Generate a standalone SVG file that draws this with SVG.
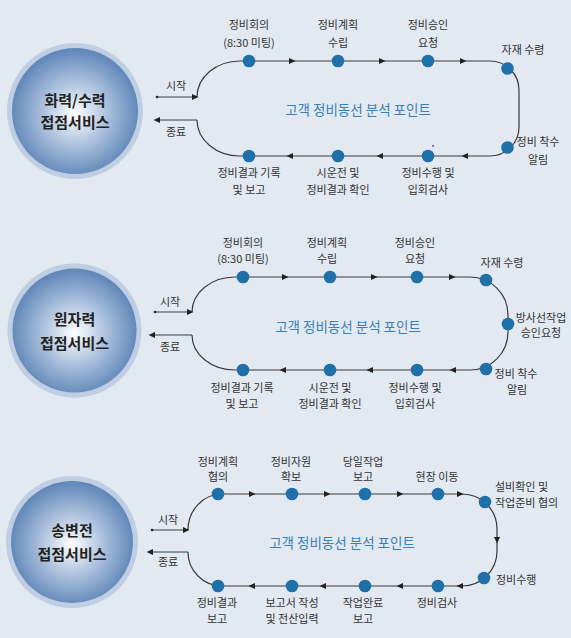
<svg xmlns="http://www.w3.org/2000/svg" xmlns:xlink="http://www.w3.org/1999/xlink" width="571" height="638" viewBox="0 0 571 638">
<style>
text{font-family:"Noto Sans CJK KR","Noto Sans",sans-serif;}
.lbl{font-size:11px;fill:#333;text-anchor:middle;}
.lbl-l{font-size:11px;fill:#333;text-anchor:start;}
.ctr{font-size:13.5px;fill:#3a80b8;text-anchor:middle;}
.svc{font-size:15px;font-weight:bold;fill:#222;text-anchor:middle;}
.line{fill:none;stroke:#3a3a3a;stroke-width:1.2;}
.dot{fill:#1f6fa8;}
.arr{fill:#222;}
.ring{fill:#bfcee2;}
.core{fill:url(#g);}
</style>
<defs>
<radialGradient id="g" cx="0.5" cy="0.52" r="0.5">
<stop offset="0" stop-color="#ffffff"/>
<stop offset="0.5" stop-color="#adc2de"/>
<stop offset="1" stop-color="#6389ba"/>
</radialGradient>
<path id="a" d="M3.5,0 L-3,-3 L-3,3 Z"/>
</defs>
<rect width="571" height="638" fill="#e2e9f1"/>

<!-- Section 1 -->
<g id="svc1">
<circle class="ring" cx="75" cy="111" r="68"/>
<circle class="core" cx="75" cy="111" r="63"/>
<text class="svc" x="75" y="105.5">화력/수력</text>
<text class="svc" x="75" y="127.5">접점서비스</text>
</g>
<g id="conn1">
<path class="line" d="M197,97 A43,36 0 0 1 240,61 L490,61 A29,29 0 0 1 519,90 L519,127 A29,29 0 0 1 490,156 L240,156 A43,36 0 0 1 197,120"/>
<path class="line" d="M157,97 L195,97"/>
<circle class="arr" cx="157" cy="97" r="1.3"/>
<use href="#a" class="arr" transform="translate(195,97)"/>
<path class="line" d="M197,120 L158,120"/>
<use href="#a" class="arr" transform="translate(157,120) rotate(180)"/>
<use href="#a" class="arr" transform="translate(292,61)"/>
<use href="#a" class="arr" transform="translate(382,61)"/>
<use href="#a" class="arr" transform="translate(463,61)"/>
<use href="#a" class="arr" transform="translate(465,156) rotate(180)"/>
<use href="#a" class="arr" transform="translate(380,156) rotate(180)"/>
<use href="#a" class="arr" transform="translate(290,156) rotate(180)"/>
</g>
<text class="lbl" x="176" y="90">시작</text>
<text class="lbl" x="176" y="136">종료</text>
<text class="ctr" x="358" y="115">고객 정비동선 분석 포인트</text>
<g id="n1-1"><circle class="dot" cx="249" cy="61" r="6.3"/><text class="lbl" x="249" y="29">정비회의</text><text class="lbl" x="249" y="47">(8:30 미팅)</text></g>
<g id="n1-2"><circle class="dot" cx="338" cy="61" r="6.3"/><text class="lbl" x="338" y="29">정비계획</text><text class="lbl" x="338" y="47">수립</text></g>
<g id="n1-3"><circle class="dot" cx="428" cy="61" r="6.3"/><text class="lbl" x="428" y="29">정비승인</text><text class="lbl" x="428" y="47">요청</text></g>
<g id="n1-4"><circle class="dot" cx="507.5" cy="68.5" r="6.3"/><text class="lbl" x="523" y="54">자재 수령</text></g>
<g id="n1-5"><circle class="dot" cx="507.5" cy="147.5" r="6.3"/><text class="lbl" x="538" y="146">정비 착수</text><text class="lbl" x="538" y="164">알림</text></g>
<g id="n1-6"><circle class="dot" cx="428" cy="156" r="6.3"/><text class="lbl" x="428" y="177">정비수행 및</text><text class="lbl" x="428" y="194">입회검사</text></g>
<g id="n1-7"><circle class="dot" cx="338" cy="156" r="6.3"/><text class="lbl" x="338" y="177">시운전 및</text><text class="lbl" x="338" y="194">정비결과 확인</text></g>
<g id="n1-8"><circle class="dot" cx="249" cy="156" r="6.3"/><text class="lbl" x="249" y="177">정비결과 기록</text><text class="lbl" x="249" y="194">및 보고</text></g>
<circle cx="433" cy="146" r="0.9" fill="#3344aa"/>

<!-- Section 2 -->
<g id="svc2">
<circle class="ring" cx="74.5" cy="330.5" r="67"/>
<circle class="core" cx="74.5" cy="330.5" r="62"/>
<text class="svc" x="74.5" y="324.5">원자력</text>
<text class="svc" x="74.5" y="348.5">접점서비스</text>
</g>
<g id="conn2">
<path class="line" d="M192,312 A43,35 0 0 1 235,277 L470,277 A38,38 0 0 1 508,315 L508,332 A38,38 0 0 1 470,370 L235,370 A43,35 0 0 1 192,335"/>
<path class="line" d="M155,312 L190,312"/>
<circle class="arr" cx="155" cy="312" r="1.3"/>
<use href="#a" class="arr" transform="translate(190,312)"/>
<path class="line" d="M192,335 L153,335"/>
<use href="#a" class="arr" transform="translate(152,335) rotate(180)"/>
<use href="#a" class="arr" transform="translate(285,277)"/>
<use href="#a" class="arr" transform="translate(374,277)"/>
<use href="#a" class="arr" transform="translate(452,277)"/>
<use href="#a" class="arr" transform="translate(453,370) rotate(180)"/>
<use href="#a" class="arr" transform="translate(370,370) rotate(180)"/>
<use href="#a" class="arr" transform="translate(283,370) rotate(180)"/>
</g>
<text class="lbl" x="170" y="306">시작</text>
<text class="lbl" x="170" y="351">종료</text>
<text class="ctr" x="348" y="332">고객 정비동선 분석 포인트</text>
<g id="n2-1"><circle class="dot" cx="243" cy="277" r="6.3"/><text class="lbl" x="243" y="247">정비회의</text><text class="lbl" x="243" y="263">(8:30 미팅)</text></g>
<g id="n2-2"><circle class="dot" cx="330" cy="277" r="6.3"/><text class="lbl" x="327" y="247">정비계획</text><text class="lbl" x="327" y="263">수립</text></g>
<g id="n2-3"><circle class="dot" cx="417" cy="277" r="6.3"/><text class="lbl" x="415" y="247">정비승인</text><text class="lbl" x="415" y="263">요청</text></g>
<g id="n2-4"><circle class="dot" cx="486" cy="280" r="6.3"/><text class="lbl" x="502" y="267">자재 수령</text></g>
<g id="n2-5"><circle class="dot" cx="508" cy="324" r="6.3"/><text class="lbl" x="541" y="322">방사선작업</text><text class="lbl" x="541" y="337">승인요청</text></g>
<g id="n2-6"><circle class="dot" cx="486" cy="369" r="6.3"/><text class="lbl" x="516" y="378">정비 착수</text><text class="lbl" x="517" y="394">알림</text></g>
<g id="n2-7"><circle class="dot" cx="417" cy="370" r="6.3"/><text class="lbl" x="415" y="392">정비수행 및</text><text class="lbl" x="415" y="408">입회검사</text></g>
<g id="n2-8"><circle class="dot" cx="330" cy="370" r="6.3"/><text class="lbl" x="330" y="392">시운전 및</text><text class="lbl" x="330" y="408">정비결과 확인</text></g>
<g id="n2-9"><circle class="dot" cx="243" cy="370" r="6.3"/><text class="lbl" x="242" y="392">정비결과 기록</text><text class="lbl" x="242" y="408">및 보고</text></g>

<!-- Section 3 -->
<g id="svc3">
<circle class="ring" cx="72" cy="542" r="66"/>
<circle class="core" cx="72" cy="542" r="61"/>
<text class="svc" x="72" y="535.5">송변전</text>
<text class="svc" x="72" y="559.5">접점서비스</text>
</g>
<g id="conn3">
<path class="line" d="M188,530 A34,36 0 0 1 222,494 L462,494 A35,35 0 0 1 497,529 L497,551 A35,35 0 0 1 462,586 L222,586 A34,34 0 0 1 188,552"/>
<path class="line" d="M152,530 L186,530"/>
<circle class="arr" cx="152" cy="530" r="1.3"/>
<use href="#a" class="arr" transform="translate(186,530)"/>
<path class="line" d="M188,552 L151,552"/>
<use href="#a" class="arr" transform="translate(150,552) rotate(180)"/>
<use href="#a" class="arr" transform="translate(252,494)"/>
<use href="#a" class="arr" transform="translate(327,494)"/>
<use href="#a" class="arr" transform="translate(400,494)"/>
<use href="#a" class="arr" transform="translate(460,494)"/>
<use href="#a" class="arr" transform="translate(497,540) rotate(90)"/>
<use href="#a" class="arr" transform="translate(460,586) rotate(180)"/>
<use href="#a" class="arr" transform="translate(400,586) rotate(180)"/>
<use href="#a" class="arr" transform="translate(323,586) rotate(180)"/>
<use href="#a" class="arr" transform="translate(252,586) rotate(180)"/>
</g>
<text class="lbl" x="168" y="524">시작</text>
<text class="lbl" x="168" y="566">종료</text>
<text class="ctr" x="342" y="548">고객 정비동선 분석 포인트</text>
<g id="n3-1"><circle class="dot" cx="218" cy="494" r="6.3"/><text class="lbl" x="218" y="466">정비계획</text><text class="lbl" x="218" y="481">협의</text></g>
<g id="n3-2"><circle class="dot" cx="292" cy="494" r="6.3"/><text class="lbl" x="291" y="466">정비자원</text><text class="lbl" x="291" y="481">확보</text></g>
<g id="n3-3"><circle class="dot" cx="365" cy="494" r="6.3"/><text class="lbl" x="363" y="466">당일작업</text><text class="lbl" x="363" y="481">보고</text></g>
<g id="n3-4"><circle class="dot" cx="438" cy="494" r="6.3"/><text class="lbl" x="437" y="481">현장 이동</text></g>
<g id="n3-5"><circle class="dot" cx="485" cy="502" r="6.3"/><text class="lbl-l" x="495" y="491">설비확인 및</text><text class="lbl-l" x="495" y="507">작업준비 협의</text></g>
<g id="n3-6"><circle class="dot" cx="484" cy="578" r="6.3"/><text class="lbl-l" x="496" y="584">정비수행</text></g>
<g id="n3-7"><circle class="dot" cx="438" cy="586" r="6.3"/><text class="lbl" x="437" y="607">정비검사</text></g>
<g id="n3-8"><circle class="dot" cx="365" cy="586" r="6.3"/><text class="lbl" x="363" y="607">작업완료</text><text class="lbl" x="363" y="623">보고</text></g>
<g id="n3-9"><circle class="dot" cx="292" cy="586" r="6.3"/><text class="lbl" x="292" y="607">보고서 작성</text><text class="lbl" x="292" y="623">및 전산입력</text></g>
<g id="n3-10"><circle class="dot" cx="218" cy="586" r="6.3"/><text class="lbl" x="217" y="607">정비결과</text><text class="lbl" x="217" y="623">보고</text></g>
</svg>
